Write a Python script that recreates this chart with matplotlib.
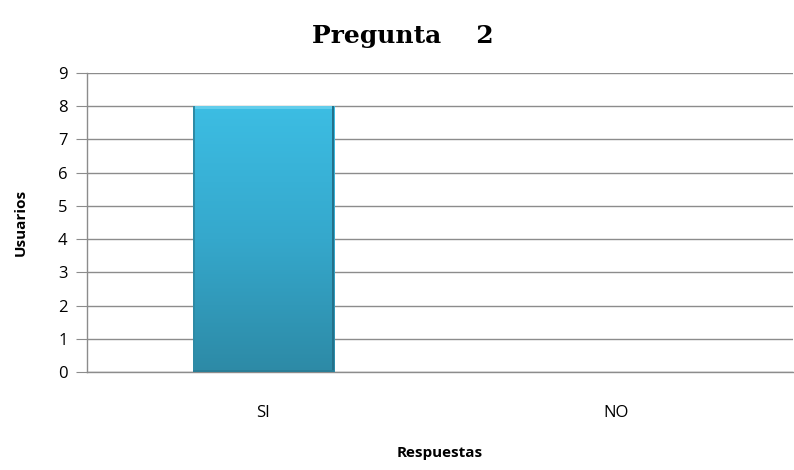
import numpy as np
import matplotlib.pyplot as plt
from matplotlib.colors import LinearSegmentedColormap
from matplotlib.patches import Rectangle

categories = ["SI", "NO"]
usuarios = [8, 0]
yticks = list(range(0, 10))

fig = plt.figure(figsize=(7.94, 4.70), dpi=100)
ax = fig.add_axes([0.1096, 0.2085, 0.889, 0.6362])

x = np.arange(len(categories))
bars = ax.bar(x, usuarios, width=0.40, color="none", edgecolor="none", zorder=3)
ax.set_xlim(-0.5, len(categories) - 0.5)
ax.set_ylim(0, 9)

# gradient fill inside each bar (light top, darker bottom)
cmap = LinearSegmentedColormap.from_list("blu", ["#2D8AA6", "#35A8CC", "#3CBDE3"])
grad = np.linspace(0, 1, 256).reshape(-1, 1)
for b in bars:
    h = b.get_height()
    if h <= 0:
        continue
    x0, w = b.get_x(), b.get_width()
    im = ax.imshow(grad, cmap=cmap, origin="lower", aspect="auto",
                   extent=(x0, x0 + w, 0, h), zorder=3)
    im.set_clip_path(b)
    # soft bevel edges
    ax.add_patch(Rectangle((x0, h - 0.08), w, 0.08, color="#62CDEB", lw=0, zorder=4))
    ax.add_patch(Rectangle((x0, 0), 0.006, h, color="#2E8BA6", lw=0, zorder=4))
    ax.add_patch(Rectangle((x0 + w - 0.006, 0), 0.006, h, color="#24718A", lw=0, zorder=4))
    ax.add_patch(Rectangle((x0, 0), w, 0.06, color="#2A7E97", lw=0, zorder=4))
ax.set_aspect("auto")

ax.set_yticks(yticks)
ax.yaxis.grid(True, color="#8C8C8C", linewidth=1.0, zorder=0)
ax.set_axisbelow(True)
for s in ["top", "right"]:
    ax.spines[s].set_visible(False)
for s in ["left", "bottom"]:
    ax.spines[s].set_color("#8C8C8C")
    ax.spines[s].set_linewidth(1.0)

ax.set_xticks(x)
ax.set_xticklabels(categories)
ax.tick_params(axis="x", length=0, pad=24, labelsize=12)
ax.tick_params(axis="y", length=8, color="#8C8C8C", pad=6, labelsize=12)
for lab in ax.get_yticklabels() + ax.get_xticklabels():
    lab.set_fontfamily("Open Sans")

ax.set_ylabel("Usuarios", fontfamily="Open Sans", fontweight="bold", fontsize=11, labelpad=22)
ax.set_xlabel("Respuestas", fontfamily="Open Sans", fontweight="bold", fontsize=11, labelpad=18)
fig.suptitle("Pregunta    2", x=0.507, y=0.95, fontfamily="DejaVu Serif",
             fontweight="bold", fontsize=18)

fig.savefig("out.png", dpi=100)
